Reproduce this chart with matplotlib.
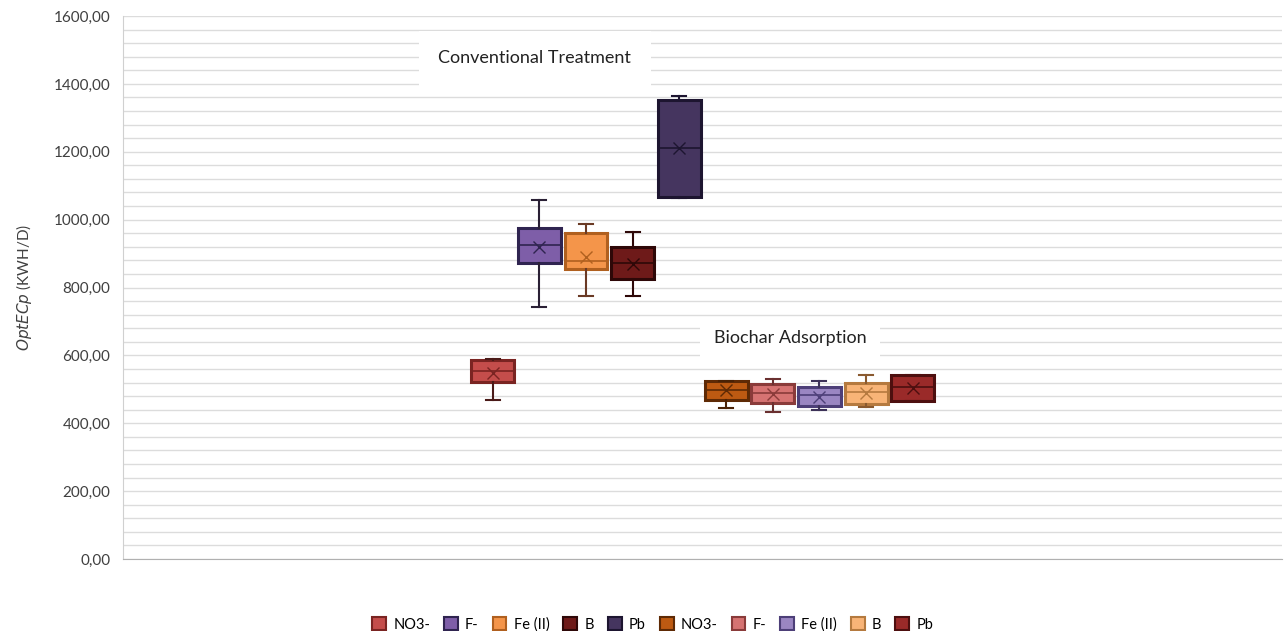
import numpy as np
import matplotlib.pyplot as plt
from matplotlib.patches import Patch
from matplotlib.ticker import FuncFormatter, MultipleLocator

plt.rcParams['font.family'] = ['Lato', 'DejaVu Sans']

# ten series, one category: five conventional treatment, five biochar adsorption
labels = ['NO3-', 'F-', 'Fe (II)', 'B', 'Pb', 'NO3-', 'F-', 'Fe (II)', 'B', 'Pb']
whislo = [468, 742, 775, 775, 1065, 446, 433, 439, 448, 466]
q1 = [521, 872, 855, 825, 1067, 468, 460, 451, 457, 466]
med = [554, 925, 878, 872, 1211, 498, 489, 483, 492, 507]
q3 = [586, 975, 960, 919, 1352, 524, 516, 507, 518, 542]
whishi = [590, 1058, 987, 963, 1364, 524, 530, 524, 542, 542]
means = [548, 919, 890, 870, 1211, 498, 486, 478, 490, 505]

fills = ['#c44d4b', '#7e5ea8', '#f4954a', '#6e1a19', '#45355f',
         '#bd5a12', '#d67372', '#9a86c2', '#f8b477', '#9a2a29']
edges = ['#7a2422', '#2f2450', '#b0601f', '#2e0808', '#1d1530',
         '#5e2a05', '#8a3b3a', '#4d3f78', '#b57a3f', '#4d0f0f']
whisk = ['#4a1a18', '#2a2035', '#6a3a25', '#2e0808', '#1d1530',
         '#4a2205', '#6a3030', '#3d3258', '#8a5a30', '#4d0f0f']

fig = plt.figure(figsize=(12.85, 6.31), dpi=100)
ax = fig.add_axes([0.0957, 0.1141, 0.9023, 0.8605])

stats = []
for i in range(len(labels)):
    stats.append(dict(label=labels[i], whislo=whislo[i], q1=q1[i], med=med[i],
                      q3=q3[i], whishi=whishi[i], mean=means[i]))

pos = np.arange(len(labels))
for i, s in enumerate(stats):
    ax.bxp([s], positions=[pos[i]], widths=0.92, patch_artist=True,
           showmeans=True, showfliers=False,
           boxprops=dict(facecolor=fills[i], edgecolor=edges[i], linewidth=2.2),
           medianprops=dict(color=edges[i], linewidth=1.2),
           whiskerprops=dict(color=whisk[i], linewidth=1.5),
           capprops=dict(color=whisk[i], linewidth=1.5),
           capwidths=0.3,
           meanprops=dict(marker='x', markeredgecolor=edges[i],
                          markersize=9, markeredgewidth=1.0))

ax.set_xlim(4.5 - 12.42, 4.5 + 12.42)
ax.set_ylim(0, 1600)
ax.yaxis.set_major_locator(MultipleLocator(200))
ax.yaxis.set_minor_locator(MultipleLocator(40))
ax.yaxis.set_major_formatter(FuncFormatter(lambda v, p: f'{v:.2f}'.replace('.', ',')))
ax.grid(axis='y', which='both', color='#dcdcdc', linewidth=1.0)
ax.set_axisbelow(True)
ax.set_xticks([])
ax.tick_params(axis='y', which='both', length=0, labelsize=11, pad=9, colors='#404040')
for side in ['top', 'right']:
    ax.spines[side].set_visible(False)
ax.spines['left'].set_color('#d0d0d0')
ax.spines['bottom'].set_color('#b0b0b0')

ax.set_ylabel(r'$OptECp$ (KWH/D)', fontsize=11, color='#404040', labelpad=14)

ax.text(0.9, 1475, 'Conventional Treatment', fontsize=13, ha='center', va='center',
        color='#222222', bbox=dict(facecolor='white', edgecolor='none', pad=14))
ax.text(6.37, 650, 'Biochar Adsorption', fontsize=13, ha='center', va='center',
        color='#222222', bbox=dict(facecolor='white', edgecolor='none', pad=10))

handles = [Patch(facecolor=fills[i], edgecolor=edges[i], linewidth=1.5, label=labels[i])
           for i in range(len(labels))]
fig.legend(handles=handles, loc='lower center', ncol=10, frameon=False,
           fontsize=10.5, bbox_to_anchor=(0.508, -0.022), handlelength=0.95,
           handleheight=0.95, handletextpad=0.5, columnspacing=0.95)

fig.savefig('out.png', dpi=100, facecolor='white')
